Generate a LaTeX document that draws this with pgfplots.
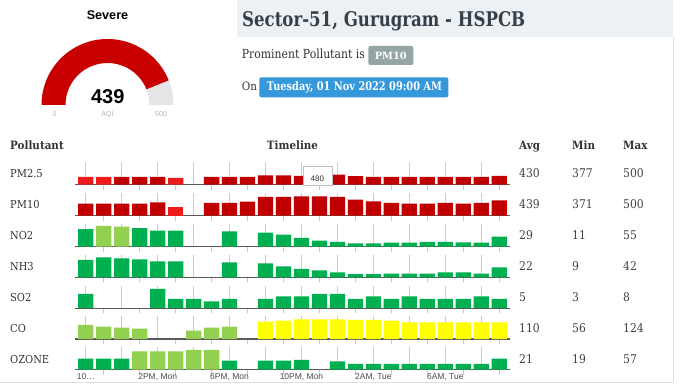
\documentclass[border=0pt]{standalone}
\usepackage{graphicx}
\usepackage{fontspec}
\usepackage{pgfplots}
\pgfplotsset{compat=1.18}
\setmainfont{DejaVu Serif}
\newfontfamily\slab[FakeStretch=0.9]{DejaVu Serif}
\newfontfamily\sans{Liberation Sans}
\newcommand{\fs}[1]{\fontsize{#1}{#1}\selectfont}
\definecolor{dred}{HTML}{C00000}
\definecolor{bred}{HTML}{EE1B1B}
\definecolor{dgreen}{HTML}{00B050}
\definecolor{lgreen}{HTML}{92D050}
\definecolor{yell}{HTML}{FFFF00}
\definecolor{band}{HTML}{EDF1F4}
\definecolor{badgegray}{HTML}{95A5A6}
\definecolor{badgeblue}{HTML}{3498DB}
\definecolor{titlec}{HTML}{34404A}
\definecolor{txt}{HTML}{333333}
\definecolor{gaugered}{HTML}{C80000}
\newcommand{\firstlab}{10\ldots}
\pgfplotsset{
  row/.style={
    scale only axis, width=435pt, height=22.6pt, anchor=south west,
    xmin=-0.6, xmax=23.6,
    axis x line*=bottom, axis y line=none, ytick=\empty,
    x axis line style={color=black!65, line width=1.2pt},
    xtick={0,2,...,22}, xticklabels={}, major tick length=0pt,
    minor xtick={1,3,...,23}, minor tick length=5pt, tick align=inside,
    minor tick style={black!22, line width=0.6pt},
    xmajorgrids, major grid style={black!20, line width=0.6pt},
    ybar,
  },
  barc/.style={fill=#1, draw=none, bar shift=0pt, bar width=0.85},
}
\begin{document}
\begin{tikzpicture}
\useasboundingbox (0,0) rectangle (680pt,386pt);
\fill[white] (0,0) rectangle (680pt,386pt);
% header band and frame
\fill[band] (237pt,349pt) rectangle (673pt,386pt);
\draw[black!12, line width=0.8pt] (673pt,349pt) -- (673pt,4pt);
\draw[black!12, line width=0.8pt] (0pt,4pt) -- (673pt,4pt);
% gauge (AQI 439 of 500)
\pgfmathsetmacro\ang{180-439/500*180}
\fill[black!10] (107.5pt,281pt) ++(0:66pt) arc[start angle=0, end angle=\ang, radius=66pt]
  -- ([shift={(\ang:42pt)}]107.5pt,281pt) arc[start angle=\ang, end angle=0, radius=42pt] -- cycle;
\fill[gaugered] (107.5pt,281pt) ++(180:66pt) arc[start angle=180, end angle=\ang, radius=66pt]
  -- ([shift={(\ang:42pt)}]107.5pt,281pt) arc[start angle=\ang, end angle=180, radius=42pt] -- cycle;
\node[anchor=base, inner sep=0, font=\sans\bfseries\fs{12.6}] at (107.5pt,366.7pt) {Severe};
\node[anchor=base, inner sep=0, font=\sans\bfseries\fs{20}] at (107.8pt,282.7pt) {439};
\node[inner sep=0, font=\sans\fs{7}, text=black!30] at (54.5pt,271.5pt) {0};
\node[inner sep=0, font=\sans\fs{7}, text=black!30] at (107.5pt,271.5pt) {AQI};
\node[inner sep=0, font=\sans\fs{7}, text=black!30] at (161pt,271.5pt) {500};
% title and info
\node[anchor=base west, inner sep=0, text=titlec] at (242pt,359.3pt) {\resizebox{283pt}{15pt}{\bfseries Sector-51, Gurugram - HSPCB}};
\node[anchor=base west, inner sep=0, text=txt] at (241.7pt,327pt) {\resizebox{123pt}{9.5pt}{Prominent Pollutant is}};
\fill[badgegray, rounded corners=2pt] (368.3pt,321pt) rectangle (413.3pt,340pt);
\node[inner sep=0, text=white] at (390.8pt,329.7pt) {\resizebox{32pt}{7.4pt}{\bfseries PM10}};
\node[anchor=base west, inner sep=0, text=txt, font=\slab\fs{11.5}] at (241.7pt,295.3pt) {On};
\fill[badgeblue, rounded corners=2pt] (259.3pt,288.7pt) rectangle (448.3pt,308.7pt);
\node[anchor=base west, inner sep=0, text=white] at (266.7pt,295pt) {\resizebox{175pt}{9pt}{\bfseries Tuesday, 01 Nov 2022 09:00 AM}};
% table headers
\node[anchor=base west, inner sep=0, text=txt, font=\slab\bfseries\fs{11.5}] at (10pt,236pt) {Pollutant};
\node[anchor=base, inner sep=0, text=txt, font=\slab\bfseries\fs{11.5}] at (292.5pt,236pt) {Timeline};
\node[anchor=base west, inner sep=0, text=txt, font=\slab\bfseries\fs{11.5}] at (519pt,236pt) {Avg};
\node[anchor=base west, inner sep=0, text=txt, font=\slab\bfseries\fs{11.5}] at (572pt,236pt) {Min};
\node[anchor=base west, inner sep=0, text=txt, font=\slab\bfseries\fs{11.5}] at (623pt,236pt) {Max};
\foreach \lab/\a/\mi/\ma [count=\i from 0] in {PM2.5/430/377/500, PM10/439/371/500, NO2/29/11/55, NH3/22/9/42, SO2/5/3/8, CO/110/56/124, OZONE/21/19/57}{
  \pgfmathsetmacro\yy{208.2-30.88*\i}
  \node[anchor=base west, inner sep=0, text=txt, font=\slab\fs{11}] at (10pt,\yy pt) {\lab};
  \node[anchor=base west, inner sep=0, text=black!75, font=\slab\fs{12}] at (519pt,\yy pt) {\a};
  \node[anchor=base west, inner sep=0, text=black!75, font=\slab\fs{12}] at (572pt,\yy pt) {\mi};
  \node[anchor=base west, inner sep=0, text=black!75, font=\slab\fs{12}] at (623pt,\yy pt) {\ma};
}
% PM2.5
\begin{axis}[row, at={(75pt,201.5pt)}, ymin=127, ymax=970]
\addplot[barc=bred] coordinates {(0,414)(1,414)(5,377)};
\addplot[barc=dred] coordinates {(2,414)(3,414)(4,414)(7,414)(8,414)(9,414)(10,463)(11,463)(12,451)(13,480)(14,500)(15,437)(16,414)(17,414)(18,414)(19,414)(20,414)(21,414)(22,414)(23,451)};
\end{axis}
% PM10
\begin{axis}[row, at={(75pt,170.4pt)}, ymin=265, ymax=540]
\addplot[barc=bred] coordinates {(5,371)};
\addplot[barc=dred] coordinates {(0,411)(1,411)(2,411)(3,411)(4,427)(7,420)(8,420)(9,435)(10,493)(11,493)(12,500)(13,500)(14,493)(15,460)(16,439)(17,420)(18,411)(19,411)(20,420)(21,411)(22,420)(23,451)};
\end{axis}
% NO2
\begin{axis}[row, at={(75pt,139.5pt)}, ymin=3.5, ymax=59.8]
\addplot[barc=lgreen] coordinates {(1,55)(2,53)};
\addplot[barc=dgreen] coordinates {(0,47)(3,49)(4,43)(5,43)(8,41)(10,38)(11,33)(12,25)(13,18)(14,15)(15,11)(16,11)(17,13)(18,13)(19,15)(20,15)(21,14)(22,13)(23,28)};
\end{axis}
% NH3
\begin{axis}[row, at={(75pt,108.7pt)}, ymin=2.5, ymax=47.2]
\addplot[barc=dgreen] coordinates {(0,37)(1,42)(2,40)(3,38)(4,34)(5,34)(8,32)(10,30)(11,24)(12,19)(13,16)(14,12)(15,9)(16,9)(17,10)(18,10)(19,10)(20,12)(21,12)(22,10)(23,22)};
\end{axis}
% SO2
\begin{axis}[row, at={(75pt,77.8pt)}, ymin=0.3, ymax=9.34]
\addplot[barc=dgreen] coordinates {(0,6)(4,8)(5,4)(6,4)(7,3)(8,4)(10,4)(11,5)(12,5)(13,6)(14,6)(15,4)(16,5)(17,4)(18,5)(19,4)(20,4)(21,4)(22,5)(23,4)};
\end{axis}
% CO
\begin{axis}[row, at={(75pt,47pt)}, ymin=6.5, ymax=141]
\addplot[barc=lgreen] coordinates {(0,90)(1,80)(2,74)(3,68)(6,56)(7,74)(8,80)};
\addplot[barc=yell] coordinates {(10,110)(11,116)(12,124)(13,124)(14,124)(15,120)(16,120)(17,116)(18,106)(19,106)(20,106)(21,106)(22,106)(23,106)};
\end{axis}
% OZONE
\begin{axis}[row, at={(75pt,16.4pt)}, ymin=3.5, ymax=64.7,
  extra x ticks={0,4,8,12,16,20},
  extra x tick labels={\firstlab,{2PM, Mon},{6PM, Mon},{10PM, Mon},{2AM, Tue},{6AM, Tue}},
  extra x tick style={grid=none, major tick length=0pt},
  tick label style={font=\sans\fs{8.5}, text=black!70}]
\addplot[barc=lgreen] coordinates {(3,53)(4,53)(5,53)(6,57)(7,57)};
\addplot[barc=dgreen] coordinates {(0,33)(1,33)(2,33)(8,28)(10,28)(11,28)(12,30)(14,26)(15,19)(16,19)(17,19)(18,19)(19,19)(20,19)(21,19)(22,19)(23,33)};
\end{axis}
% tooltip
\draw[black!25, fill=white] (303pt,201pt) rectangle (332pt,220pt);
\node[inner sep=0, font=\sans\fs{8}, text=black!80] at (317.3pt,207.7pt) {480};
\end{tikzpicture}
\end{document}
